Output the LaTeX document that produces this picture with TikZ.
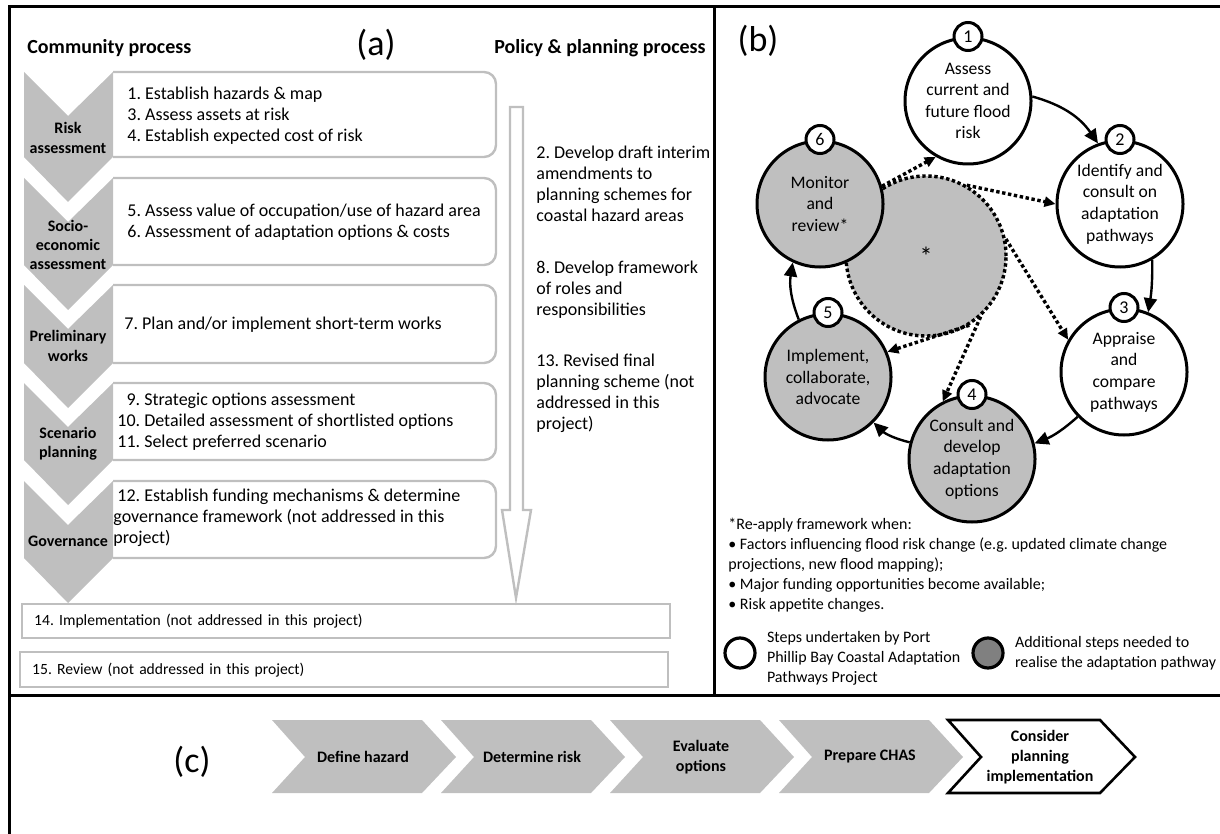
\documentclass[tikz,border=0pt]{standalone}
\usepackage{fontspec}
\setmainfont{Carlito}
\usepackage{tikz}
\usetikzlibrary{positioning,arrows.meta}

\definecolor{chevgrey}{RGB}{191,191,191}
\definecolor{keygrey}{RGB}{128,128,128}
\frenchspacing

\begin{document}
\begin{tikzpicture}[
  x=0.5pt, y=-0.5pt, font=\fontsize{9}{10.5}\selectfont,
  border/.style={line width=1.5pt},
  boxline/.style={draw=chevgrey, line width=1.2pt, rounded corners=6pt},
  steptext/.style={anchor=west, align=left, inner sep=0pt},
  stagelabel/.style={font=\fontsize{8}{9.6}\selectfont\bfseries, align=center, inner sep=0pt},
  panel/.style={font=\fontsize{18}{20}\selectfont, inner sep=0pt},
  heading/.style={font=\fontsize{10}{12}\selectfont\bfseries, inner sep=0pt},
  flatbox/.style={draw=chevgrey, line width=1.2pt, text width=312pt,
    inner xsep=6pt, inner ysep=0pt, align=left, font=\fontsize{7.8}{9}\selectfont},
  phase/.style={circle, draw=black, line width=1.5pt, minimum size=63pt,
    inner sep=0pt, align=center, font=\fontsize{8.8}{10.8}\selectfont},
  badge/.style={circle, draw=black, fill=white, line width=1.5pt,
    minimum size=14pt, inner sep=0pt},
  cyclearrow/.style={-{Triangle[length=7pt,width=6.5pt]}, line width=1.2pt},
  dotline/.style={line width=1.7pt, dash pattern=on 1.7pt off 1.3pt},
  reapply/.style={dotline, -{Triangle[length=5.5pt,width=5pt]}},
  keycircle/.style={circle, draw=black, line width=1.6pt, minimum size=15pt, inner sep=0pt},
  keytext/.style={align=left, inner sep=0pt, font=\fontsize{8}{10}\selectfont},
  outcome/.style={font=\fontsize{8}{10}\selectfont\bfseries, align=center, inner sep=0pt}
]
% Canvas in pixels of the 1220 by 834 original.
\path[use as bounding box] (0,0) rectangle (1220,834);

% Panel frame: outer top and left edges, and the two dividers.
\draw[border] (9,834) -- (9,7) -- (1220,7);
\draw[border] (714,7) -- (714,695);
\draw[border] (9,695) -- (1220,695);

% (a) Headings.
\node[heading, anchor=west] (community) at (27,48) {Community process};
\node[panel] (pa) at (376,45) {(a)};
\node[heading] (policy) at (600,48) {Policy \& planning process};

% (a) Step boxes, open on the left where the stage chevrons sit.
\foreach \t/\b in {72/157,178/265,285/363,383/460,481/558}
  \draw[boxline] (113,\t) -- (496,\t) -- (496,\b) -- (113,\b);
\foreach \t/\b in {72/157,178/265,285/363,383/460,481/558}
  \fill[chevgrey] (24,\t) -- (68,\t+44) -- (113,\t) -- (113,\b) -- (68,\b+45) -- (24,\b) -- cycle;

\node[stagelabel] (risk) at (68,138) {Risk\\assessment};
\node[stagelabel] (socio) at (68,245) {Socio-\\economic\\assessment};
\node[stagelabel] (prelim) at (68,346) {Preliminary\\works};
\node[stagelabel] (scen) at (68,444) {Scenario\\planning};
\node[stagelabel] (gov) at (68,541) {Governance};

\node[steptext] (t1) at (127,116)
  {1. Establish hazards \& map\\3. Assess assets at risk\\4. Establish expected cost of risk};
\node[steptext] (t2) at (127,222)
  {5. Assess value of occupation/use of hazard area\\6. Assessment of adaptation options \& costs};
\node[steptext] (t3) at (124,325) {7. Plan and/or implement short-term works};
\node[steptext] (t4) at (117,422)
  {\hphantom{1}9. Strategic options assessment\\10. Detailed assessment of shortlisted options\\11. Select preferred scenario};
\node[steptext] (t5) at (113,518)
  {\hspace{2pt}12. Establish funding mechanisms \& determine\\governance framework (not addressed in this\\project)};

% (a) Policy track: hollow block arrow and its three steps.
\draw[draw=chevgrey, line width=1.2pt, fill=white]
  (510,107) -- (523,107) -- (523,510) -- (531,510) -- (516,598)
  -- (502,510) -- (510,510) -- cycle;
\node[steptext] (p2) at (536,184)
  {2. Develop draft interim\\amendments to\\planning schemes for\\coastal hazard areas};
\node[steptext] (p8) at (536,290) {8. Develop framework\\of roles and\\responsibilities};
\node[steptext] (p13) at (536,393)
  {13. Revised final\\planning scheme (not\\addressed in this\\project)};

\node[flatbox, minimum height=17pt, anchor=north west] (s14) at (21,603)
  {14. Implementation (not addressed in this project)};
\node[flatbox, minimum height=17.5pt, anchor=north west] (s15) at (19,651)
  {15. Review (not addressed in this project)};

% (b) Adaptation cycle.
\node[panel] (pb) at (758,41) {(b)};
\node[circle, minimum size=80pt, inner sep=0pt, fill=chevgrey, draw=black, dotline,
  font=\fontsize{13}{13}\selectfont] (star) at (926,256) {*};

\node[phase, fill=white] (c1) at (968,101) {Assess\\current and\\future flood\\risk};
\node[phase, fill=white] (c2) at (1120,204) {Identify and\\consult on\\adaptation\\pathways};
\node[phase, fill=white] (c3) at (1124,372) {Appraise\\and\\compare\\pathways};
\node[phase, fill=chevgrey] (c4) at (972,459) {Consult and\\develop\\adaptation\\options};
\node[phase, fill=chevgrey] (c5) at (828,377) {Implement,\\collaborate,\\advocate};
\node[phase, fill=chevgrey] (c6) at (820,204) {Monitor\\and\\review*};

\node[badge] (n1) at (c1.north) {1};
\node[badge] (n2) at (c2.north) {2};
\node[badge] (n3) at (c3.north) {3};
\node[badge] (n4) at (c4.north) {4};
\node[badge] (n5) at (c5.north) {5};
\node[badge] (n6) at (c6.north) {6};

\draw[cyclearrow] (c1.4) to[bend left=20] (c2.110);
\draw[cyclearrow] (c2.-60) to[bend left=5] (c3.68);
\draw[cyclearrow] (c3.224) to[bend left=10] (c4.14);
\draw[cyclearrow] (c4.165) to[bend left=15] (c5.-45);
\draw[cyclearrow] (c5.117) to[bend left=15] (c6.245);

\draw[reapply] (c6.16) -- (c1.240);
\draw[reapply] (star.60) -- (c2.west);
\draw[reapply] (star.12) -- (c3.150);
\draw[reapply] (star.-48) -- (c4.117);
\draw[reapply] (star.-58) -- (c5.23);

% (b) Notes and key.
\node[keytext, anchor=west] (note) at (728,565)
  {*Re-apply framework when:\\
   • Factors influencing flood risk change (e.g. updated climate change\\
   projections, new flood mapping);\\
   • Major funding opportunities become available;\\
   • Risk appetite changes.};
\node[keycircle, fill=white] (keyw) at (740,653) {};
\node[keytext, right=5pt of keyw, yshift=-2.5pt] (keywtext)
  {Steps undertaken by Port\\Phillip Bay Coastal Adaptation\\Pathways Project};
\node[keycircle, fill=keygrey] (keyg) at (988,653) {};
\node[keytext, right=5pt of keyg] (keygtext)
  {Additional steps needed to\\realise the adaptation pathway};

% (c) CHAS sequence.
\node[panel] (pc) at (192,762) {(c)};
\foreach \l in {272,441,610,779}
  \fill[chevgrey] (\l,720) -- (\l+150,720) -- (\l+184,757) -- (\l+150,793)
    -- (\l,793) -- (\l+33,757) -- cycle;
\draw[line width=1.3pt, fill=white] (948,720) -- (1100,720) -- (1135,757)
  -- (1100,793) -- (948,793) -- (981,757) -- cycle;
\node[outcome] (hazard) at (363,757) {Define hazard};
\node[outcome] (riskc) at (532,757) {Determine risk};
\node[outcome] (options) at (701,757) {Evaluate\\options};
\node[outcome] (chas) at (870,757) {Prepare CHAS};
\node[outcome] (implement) at (1040,757) {Consider\\planning\\implementation};
\end{tikzpicture}
\end{document}
